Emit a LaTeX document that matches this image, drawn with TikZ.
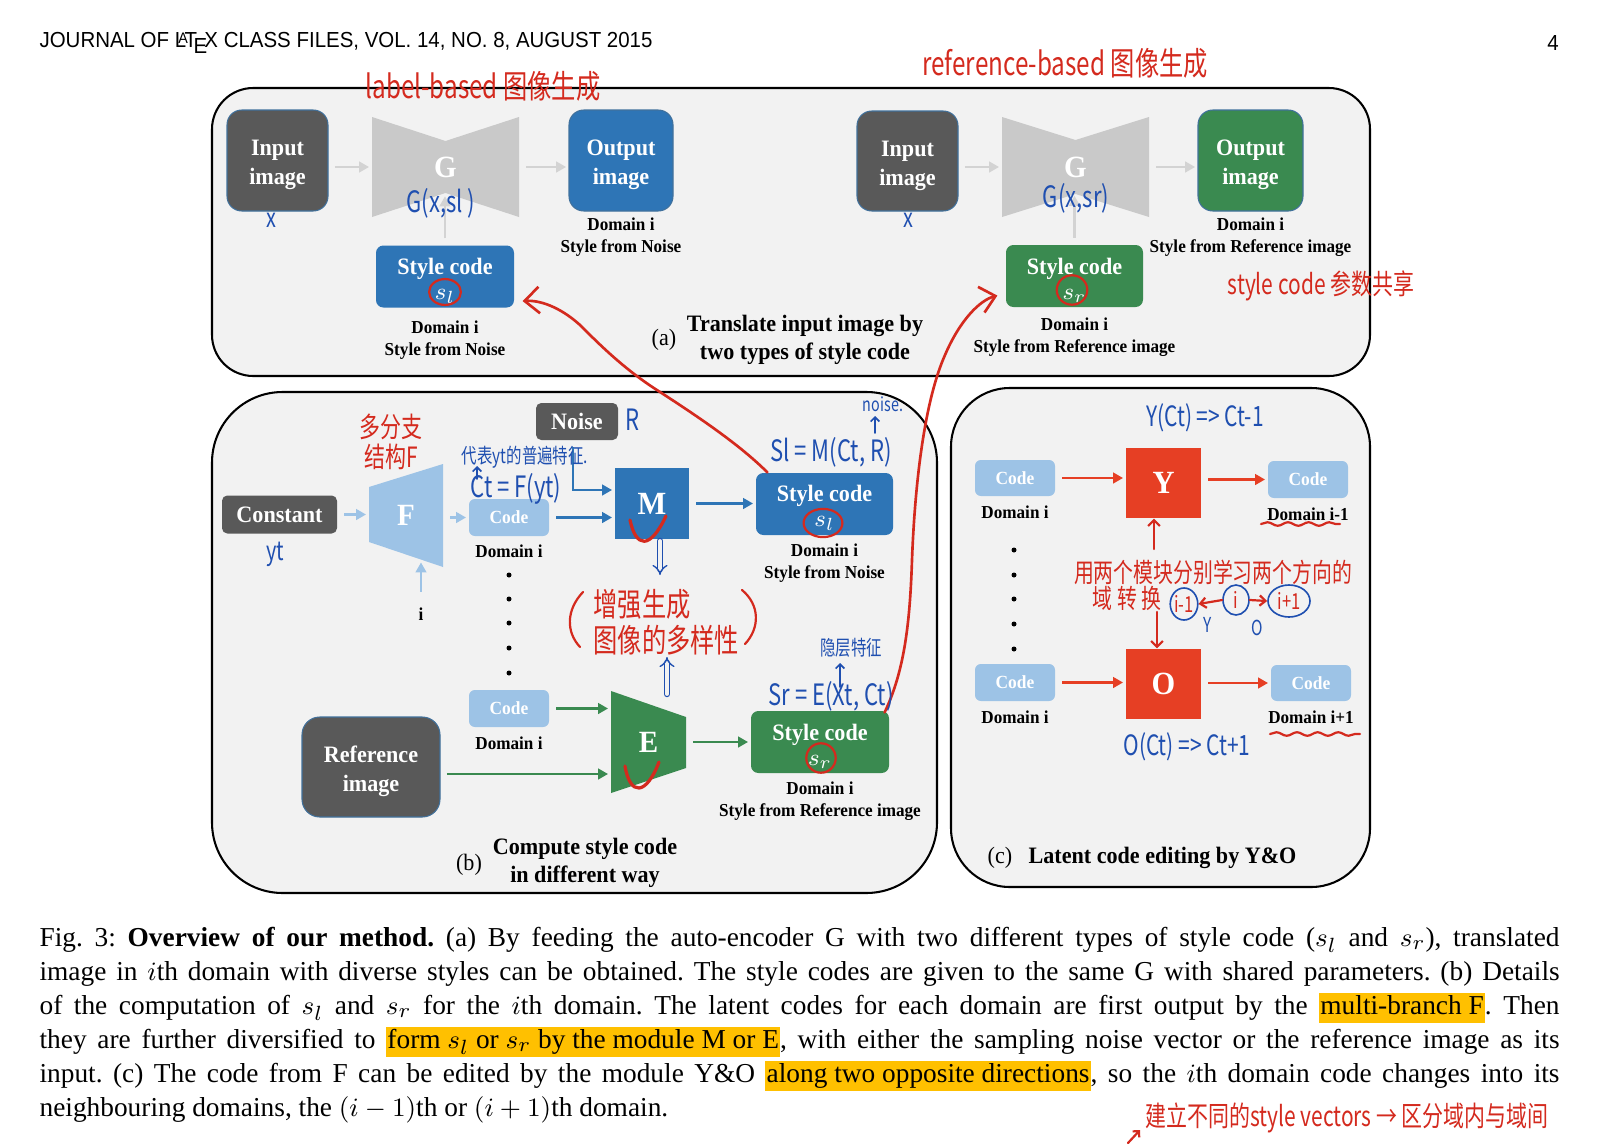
\documentclass[tikz,border=0pt]{standalone}
\usepackage[no-math]{fontspec}
\setmainfont{Liberation Serif}[FakeStretch=0.94]
\newfontfamily\capfont{Liberation Serif}
\newfontfamily\hdrfont{Liberation Sans}[FakeStretch=0.94]
\newfontfamily\handfont{Noto Sans CJK SC}[FakeStretch=0.75]
\usetikzlibrary{arrows.meta,shapes.geometric,positioning,calc,decorations.pathmorphing}

\newdimen\pxu
\pxu=0.34pt
\definecolor{hlyellow}{HTML}{FFC000}
\newcommand\hwf[2]{\handfont\fontsize{#1}{#2}\selectfont}
\newcommand\hlt[1]{{\setlength{\fboxsep}{0.4pt}\colorbox{hlyellow}{\rule[-2.4pt]{0pt}{9.6pt}#1}}}
\newcommand\lift{\rule{0pt}{8.4pt}}

\begin{document}
\begin{tikzpicture}[x=0.34pt,y=-0.34pt,
    every node/.style={inner sep=0pt},
    panel/.style={draw=black,line width=0.7pt,fill=panelgray},
    box/.style={text=white,align=center,font=\bfseries\fontsize{8}{9.8}\selectfont},
    imgbox/.style={box,draw=edgeblue,line width=0.35pt,rounded corners=5pt},
    codebox/.style={box,fill=lightblue,rounded corners=2pt,font=\bfseries\fontsize{6.3}{7}\selectfont,minimum width=80\pxu,minimum height=37\pxu},
    stylebox/.style={box,rounded corners=2.5pt,minimum width=138\pxu,minimum height=62\pxu,font=\bfseries\fontsize{8}{8.5}\selectfont},
    tagbox/.style={box,fill=boxgray,rounded corners=1.8pt,minimum height=38\pxu},
    modbox/.style={box,minimum width=75\pxu,minimum height=71\pxu,font=\bfseries\fontsize{11}{13}\selectfont},
    modtxt/.style={text=white,font=\bfseries\fontsize{10.5}{12}\selectfont},
    lbl/.style={align=center,font=\bfseries\fontsize{6.2}{7.5}\selectfont},
    captext/.style={align=center,font=\bfseries\fontsize{8}{9.4}\selectfont},
    tag/.style={font=\fontsize{8}{9.4}\selectfont},
    arr/.style={line width=1pt,-{Triangle[length=3.4pt,width=3.6pt]},shorten <=2.2pt,shorten >=0.8pt},
    grayarr/.style={arr,draw=arrowgray},
    lbarr/.style={arr,draw=lightblue},
    barr/.style={arr,draw=mblue},
    grarr/.style={arr,draw=mgreen},
    rarr/.style={arr,draw=mred},
    redpen/.style={draw=penred,line width=0.75pt,line cap=round,line join=round},
    bluepen/.style={draw=penblue,line width=0.55pt,line cap=round,line join=round},
    rednote/.style={text=penred,align=center},
    bluenote/.style={text=penblue,align=center}]
  \definecolor{panelgray}{HTML}{F2F2F2}
  \definecolor{boxgray}{HTML}{595959}
  \definecolor{edgeblue}{HTML}{41719C}
  \definecolor{mblue}{HTML}{2E75B6}
  \definecolor{lightblue}{HTML}{9DC3E6}
  \definecolor{mgreen}{HTML}{3A8A50}
  \definecolor{mred}{HTML}{E63F24}
  \definecolor{ggray}{HTML}{C9C9C9}
  \definecolor{arrowgray}{HTML}{D3D3D3}
  \definecolor{penred}{HTML}{D42A1E}
  \definecolor{penblue}{HTML}{1F4FB0}

  \useasboundingbox (0,0) rectangle (1618,1146);
  \fill[white] (0,0) rectangle (1618,1146);

  %% Header ------
  \node[anchor=west,font=\hdrfont\fontsize{7.4}{8}\selectfont] (head) at (39,43) {JOURNAL OF \LaTeX\ CLASS FILES, VOL. 14, NO. 8, AUGUST 2015};
  \node[font=\hdrfont\fontsize{7.4}{8}\selectfont] (pagenum) at (1553,43) {4};

  %% Panel (a) ------
  \draw[panel,rounded corners=14pt] (212,88) rectangle (1370,376);
  \fill[ggray] (372,117) -- (445.5,141) -- (519,117) -- (519,217) -- (445.5,193) -- (372,217) -- cycle;
  \fill[ggray] (1002,117) -- (1075.5,140) -- (1149,117) -- (1149,217) -- (1075.5,194) -- (1002,217) -- cycle;
  \node[imgbox,fill=boxgray,minimum width=101\pxu,minimum height=101\pxu] (in1) at (277.5,160.5) {\lift Input\\image};
  \node[modtxt,minimum width=147\pxu,minimum height=100\pxu] (G1) at (445.5,167) {G};
  \node[imgbox,fill=mblue,minimum width=104\pxu,minimum height=101\pxu] (out1) at (621,160.5) {\lift Output\\image};
  \node[lbl,below=2pt of out1] (out1l) {Domain i\\Style from Noise};
  \node[stylebox,fill=mblue] (sc1) at (445,276.5) {\lift Style code\\$s_l$};
  \node[lbl,below=4pt of sc1] (sc1l) {Domain i\\Style from Noise};
  \node[imgbox,fill=boxgray,minimum width=101\pxu,minimum height=100\pxu] (in2) at (907.5,161) {\lift Input\\image};
  \node[modtxt,minimum width=147\pxu,minimum height=100\pxu] (G2) at (1075.5,167) {G};
  \node[imgbox,fill=mgreen,minimum width=105\pxu,minimum height=101\pxu] (out2) at (1250.5,160.5) {\lift Output\\image};
  \node[lbl,below=2pt of out2] (out2l) {Domain i\\Style from Reference image};
  \node[stylebox,fill=mgreen,minimum width=137\pxu] (sc2) at (1074.5,276) {\lift Style code\\$s_r$};
  \node[lbl,below=3.4pt of sc2] (sc2l) {Domain i\\Style from Reference image};
  \draw[grayarr] (in1.east |- G1) -- (G1.west);
  \draw[grayarr] (G1.east) -- (G1.east -| out1.west);
  \draw[grayarr] (sc1.north) -- ++(0,-51);
  \draw[grayarr] (in2.east |- G2) -- (G2.west);
  \draw[grayarr] (G2.east) -- (G2.east -| out2.west);
  \draw[grayarr] (sc2.north) -- ++(0,-51);
  \node[tag] (capa) at (664,340) {(a)};
  \node[captext] (capat) at (805,340) {Translate input image by\\two types of style code};

  %% Panel (b) ------
  \draw[panel,rounded corners=24pt] (212,392) rectangle (937,893);
  \fill[lightblue] (369,487) -- (443,464) -- (443,567) -- (369,542) -- cycle;
  \fill[mgreen] (611,691) -- (686,717) -- (686,768) -- (611,793) -- cycle;
  \node[tagbox,minimum width=115\pxu] (const) at (279.5,514.5) {Constant};
  \node[modtxt,minimum width=74\pxu,minimum height=80\pxu] (F) at (406,515.5) {F};
  \node[lbl] (ilab) at (421,614) {i};
  \node[codebox] (code1) at (509,517.5) {Code};
  \node[lbl,below=2.7pt of code1] (code1l) {Domain i};
  \foreach \y in {575,599,623,648,673}
    \fill (509,\y) circle (0.85pt);
  \node[codebox] (code2) at (509,708.5) {Code};
  \node[lbl,below=3pt of code2] (code2l) {Domain i};
  \node[tagbox,minimum width=82\pxu,minimum height=37\pxu] (noise) at (577,421.5) {Noise};
  \node[modbox,fill=mblue,minimum width=74\pxu] (M) at (652,503.5) {M};
  \node[stylebox,fill=mblue,minimum width=137\pxu] (sc3) at (824.5,504) {\lift Style code\\$s_l$};
  \node[lbl,below=2.7pt of sc3] (sc3l) {Domain i\\Style from Noise};
  \node[imgbox,fill=boxgray,minimum width=138\pxu,minimum height=100\pxu,rounded corners=6pt] (ref) at (371,767) {\lift Reference\\image};
  \node[modtxt,minimum width=75\pxu,minimum height=80\pxu] (E) at (648.5,742) {E};
  \node[stylebox,fill=mgreen] (sc4) at (820,742) {\lift Style code\\$s_r$};
  \node[lbl,below=2.7pt of sc4] (sc4l) {Domain i\\Style from Reference image};
  \draw[lbarr] (const.east) -- (const.east -| F.west);
  \draw[lbarr] ([yshift=9\pxu]ilab.north) -- ++(0,-38);
  \draw[lbarr] (F.east |- code1.west) -- (code1.west);
  \draw[barr] (code1.east) -- (code1.east -| M.west);
  \draw[barr] ([xshift=-4\pxu]noise.south) |- ([yshift=13.5\pxu]M.west);
  \draw[barr] (M.east) -- (M.east -| sc3.west);
  \coordinate (refout) at ([yshift=-7\pxu]ref.east);
  \draw[grarr] (code2.east) -- (code2.east -| E.west);
  \draw[grarr] (refout) -- (refout -| E.west);
  \draw[grarr] (E.east) -- (sc4.west);
  \node[tag] (capb) at (469,865) {(b)};
  \node[captext] (capbt) at (585,863) {Compute style code\\in different way};

  %% Panel (c) ------
  \draw[panel,rounded corners=20pt] (951,388) rectangle (1370,887);
  \node[codebox,minimum height=36\pxu] (cc1) at (1015,478) {Code};
  \node[lbl,below=3pt of cc1] (cc1l) {Domain i};
  \node[modbox,fill=mred,minimum height=70\pxu] (Y) at (1163.5,483) {Y};
  \node[codebox] (cc2) at (1308,479.5) {Code};
  \node[lbl,below=3pt of cc2] (cc2l) {Domain i-1};
  \foreach \y in {550,575,599,624,649}
    \fill (1014,\y) circle (0.85pt);
  \node[codebox] (cc3) at (1015,682.5) {Code};
  \node[lbl,below=3pt of cc3] (cc3l) {Domain i};
  \node[modbox,fill=mred,minimum height=70\pxu] (O) at (1163.5,684) {O};
  \node[codebox,minimum height=36\pxu] (cc4) at (1311,683) {Code};
  \node[lbl,below=3pt of cc4] (cc4l) {Domain i+1};
  \draw[rarr] (cc1.east) -- (cc1.east -| Y.west);
  \draw[rarr] (Y.east |- cc2.west) -- (cc2.west);
  \draw[rarr] (cc3.east) -- (cc3.east -| O.west);
  \draw[rarr] (O.east |- cc4.west) -- (cc4.west);
  \node[tag] (capc) at (1000,858) {(c)};
  \node[captext,anchor=west] (capct) at (1028,858) {Latent code editing by Y\&O};

  %% Caption ------
  \node[anchor=north west,text width=1520\pxu,align=justify,font=\capfont\fontsize{9.3}{11.56}\selectfont] (caption) at (39,927) {\frenchspacing\hyphenpenalty=10000\exhyphenpenalty=10000
    Fig.~3: \textbf{Overview of our method.} (a) By feeding the auto-encoder G with two different types of style code ($s_l$ and $s_r$), translated\linebreak
    image in $i$th domain with diverse styles can be obtained. The style codes are given to the same G with shared parameters. (b) Details\linebreak
    of the computation of $s_l$ and $s_r$ for the $i$th domain. The latent codes for each domain are first output by the \hlt{multi-branch F}. Then\linebreak
    they are further diversified to \hlt{form $s_l$ or $s_r$ by the module M or E}, with either the sampling noise vector or the reference image as its\linebreak
    input. (c) The code from F can be edited by the module Y\&O \hlt{along two opposite directions}, so the $i$th domain code changes into its\linebreak
    neighbouring domains, the $(i-1)$th or $(i+1)$th domain.};

  %% Notes (red and blue pen) ------
  \node[rednote,font=\hwf{11}{13}] (notea1) at (483,86) {label-based 图像生成};
  \node[rednote,font=\hwf{11}{13}] (notea2) at (1065,63) {reference-based 图像生成};
  \node[rednote,font=\hwf{9.5}{11}] (notea3) at (1321,286) {style code 参数共享};
  \node[bluenote,font=\hwf{9}{10}] (x1) at (271,220) {x};
  \node[bluenote,font=\hwf{9}{10}] (x2) at (908,220) {x};
  \node[bluenote,font=\hwf{10}{12}] (g1n) at (441,203) {G(x,sl\,)};
  \node[bluenote,font=\hwf{10}{12}] (g2n) at (1076,198) {G(x,sr)};
  \draw[redpen] (445,292) ellipse [x radius=5.4pt,y radius=4.4pt];
  \draw[redpen] (1072,290) ellipse [x radius=5.2pt,y radius=5pt];
  \draw[redpen] (823,523) ellipse [x radius=6.6pt,y radius=4.8pt];
  \draw[redpen] (821,758) ellipse [x radius=5pt,y radius=5pt];
  \draw[redpen,line width=0.9pt,-{Straight Barb[length=5pt,width=9pt]}] ($(sc3.north west)+(12,0)$) .. controls (740,445) and (700,418) .. (660,392) .. controls (625,370) and (600,345) .. (580,325) .. controls (560,307) and (540,300) .. ($(sc1.south east)+(8,-7)$);
  \draw[redpen,line width=0.9pt,-{Straight Barb[length=5pt,width=9pt]}] ($(sc4.north east)+(-5,2)$) .. controls (905,670) and (910,620) .. (912,560) .. controls (915,480) and (925,400) .. (945,355) .. controls (960,320) and (980,300) .. ($(sc2.south west)+(-8,-12)$);
  \node[rednote,font=\hwf{9.5}{10.4}] (noteF) at (391,442) {多分支\\结构F};
  \node[bluenote,font=\hwf{7}{8}] (noteC) at (525,457) {代表yt的普遍特征.};
  \draw[bluepen,-{Straight Barb[length=1.5pt,width=3pt]}] (477,479) -- (477,466);
  \node[bluenote,font=\hwf{10}{11}] (ctn) at (516,489) {Ct = F(yt)};
  \node[bluenote,font=\hwf{9}{10}] (ytn) at (275,554) {yt};
  \node[bluenote,font=\hwf{10}{11}] (rn) at (632,420) {R};
  \node[bluenote,font=\hwf{10}{11}] (sln) at (831,452) {Sl = M(Ct, R)};
  \node[bluenote,font=\hwf{6.5}{7}] (noisen) at (883,404) {noise.};
  \draw[bluepen,-{Straight Barb[length=1.5pt,width=3pt]}] (875,433) -- (875,416);
  \draw[redpen,line width=1.1pt] (630,520) .. controls (636,548) and (650,550) .. (666,516);
  \draw[redpen,line width=1.1pt] (625,766) .. controls (630,796) and (646,796) .. (659,762);
  \draw[bluepen,line width=0.45pt,double=panelgray,double distance=1.3pt,-Implies] (660,541) -- (660,575);
  \draw[bluepen,line width=0.45pt,double=panelgray,double distance=1.3pt,-Implies] (667,694) -- (667,657);
  \node[rednote,align=left,anchor=north west,font=\hwf{11}{12}] (noteM) at (593,589) {增强生成\\图像的多样性};
  \draw[redpen] (583,592) .. controls (566,610) and (566,632) .. (580,647);
  \draw[redpen] (742,590) .. controls (760,605) and (760,628) .. (745,644);
  \node[bluenote,font=\hwf{7}{8}] (hidn) at (851,648) {隐层特征};
  \draw[bluepen,-{Straight Barb[length=1.5pt,width=3pt]}] (840,687) -- (840,663);
  \node[bluenote,font=\hwf{10}{11}] (srn) at (831,696) {Sr = E(Xt, Ct)};
  \node[bluenote,font=\hwf{9.5}{11}] (yn) at (1205,418) {Y(Ct) => Ct-1};
  \node[bluenote,font=\hwf{9.5}{11}] (on) at (1187,747) {O(Ct) => Ct+1};
  \node[rednote,font=\hwf{9}{10}] (twomod) at (1213,572) {用两个模块分别学习两个方向的};
  \node[rednote,font=\hwf{9}{10}] (twomod2) at (1127,598) {域\,转\,换};
  \draw[redpen,-{Straight Barb[length=2pt,width=4pt]}] (1154,549) -- (1154,549 |- Y.south);
  \draw[redpen,-{Straight Barb[length=2pt,width=4pt]}] (1157,612) -- (1157,612 |- O.north);
  \node[rednote,font=\hwf{7.5}{8},draw=penblue,line width=0.55pt,ellipse,minimum width=26\pxu,minimum height=32\pxu] (ci1) at (1184,604) {i-1};
  \node[rednote,font=\hwf{7.5}{8},draw=penblue,line width=0.55pt,ellipse,minimum width=26\pxu,minimum height=30\pxu] (ci) at (1236,600) {i};
  \node[rednote,font=\hwf{7.5}{8},draw=penblue,line width=0.55pt,ellipse,minimum width=42\pxu,minimum height=32\pxu] (ci2) at (1289,601) {i+1};
  \draw[redpen,-{Straight Barb[length=2pt,width=3.5pt]}] (ci.west) -- (ci1.east);
  \draw[redpen,-{Straight Barb[length=2pt,width=3.5pt]}] (ci.east) -- (ci2.west);
  \node[bluenote,font=\hwf{7}{8}] (ylab) at (1208,625) {Y};
  \node[bluenote,font=\hwf{7}{8}] (olab) at (1257,628) {O};
  \draw[redpen,decorate,decoration={snake,amplitude=0.6pt,segment length=7pt}] (1261,524) -- (1340,524);
  \draw[redpen,decorate,decoration={snake,amplitude=0.6pt,segment length=7pt}] (1270,734) -- (1360,734);
  \node[rednote,font=\hwf{9.5}{11}] (capnote) at (1347,1118) {建立不同的style vectors → 区分域内与域间};
  \draw[redpen,-{Straight Barb[length=1.5pt,width=3pt]}] (1128,1143) -- (1140,1130);
\end{tikzpicture}
\end{document}
